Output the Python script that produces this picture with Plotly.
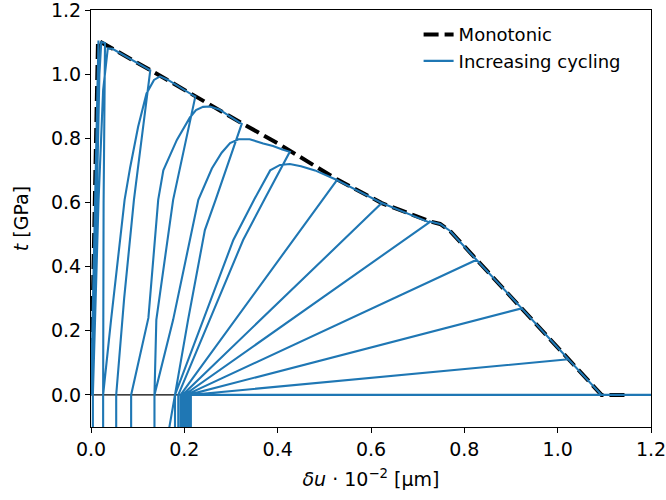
import plotly.graph_objects as go

# Monotonic envelope
mono_x = [0.0, 0.015, 0.13, 0.223, 0.326, 0.405, 0.526, 0.623, 0.726, 0.748, 0.769, 1.094, 1.15]
mono_t = [0.0, 1.105, 1.01, 0.930, 0.845, 0.780, 0.673, 0.598, 0.541, 0.533, 0.512, 0.0, 0.0]

# Cyclic test: unloading points on the envelope
peak_x = [0.016, 0.030, 0.127, 0.224, 0.323, 0.426, 0.527, 0.623, 0.725, 0.826, 0.923, 1.023]
peak_t = [1.105, 1.097, 1.012, 0.933, 0.845, 0.758, 0.670, 0.598, 0.538, 0.421, 0.270, 0.111]

# intermediate points on unloading branches
unload_x = [[], [0.027], [0.101, 0.092, 0.071], [0.19, 0.176, 0.14], [0.267, 0.244, 0.208],
            [0.371, 0.326], [], [], [], [], [], []]
unload_t = [[], [0.6], [0.70, 0.608, 0.30], [0.70, 0.608, 0.234], [0.608, 0.514, 0.234],
            [0.608, 0.483], [], [], [], [], [], []]
# residual opening where unloading reaches t = 0, and bottom of compression branch
resid_x = [0.004, 0.026, 0.054, 0.136, 0.180, 0.187, 0.192, 0.196, 0.200, 0.204, 0.208, 0.212]
comp_x = [0.004, 0.026, 0.054, 0.136, 0.132, 0.187, 0.192, 0.196, 0.200, 0.204, 0.208, 0.212]
# start of reloading branch on t = 0
rel0_x = [0.004, 0.004, 0.026, 0.086, 0.136, 0.180, 0.192, 0.196, 0.200, 0.204, 0.208, 0.212]
# reloading branches (up to where they rejoin the envelope)
reload_x = [[0.018, 0.022],
            [0.016, 0.019, 0.026, 0.036, 0.046],
            [0.043, 0.072, 0.084, 0.101, 0.119, 0.135, 0.148, 0.165],
            [0.123, 0.144, 0.155, 0.184, 0.212, 0.225, 0.24, 0.255, 0.275, 0.295],
            [0.176, 0.23, 0.259, 0.28, 0.298, 0.316, 0.34, 0.369, 0.39, 0.41],
            [0.305, 0.35, 0.384, 0.405, 0.426, 0.45, 0.48, 0.505],
            [], [], [], [], [], []]
reload_t = [[1.0, 1.1],
            [0.6, 0.7, 0.95, 1.08, 1.079],
            [0.234, 0.608, 0.71, 0.836, 0.94, 0.982, 0.993, 0.982],
            [0.24, 0.608, 0.70, 0.795, 0.865, 0.888, 0.898, 0.899, 0.89, 0.871],
            [0.234, 0.608, 0.706, 0.755, 0.785, 0.797, 0.797, 0.784, 0.776, 0.765],
            [0.483, 0.61, 0.70, 0.717, 0.72, 0.713, 0.70, 0.684],
            [], [], [], [], [], []]
# final failure: traction-free sliding back and forth
tail_x = [1.094, 1.2, 0.214, 0.214]
tail_t = [0.0, 0.0, 0.0, -0.4]
comp_bottom = -0.4


def env_between(x0, x1):
    return [(x, t) for x, t in zip(mono_x, mono_t) if x0 < x < x1]


pts = [(0.0, 0.0)]
join_x = 0.0
for i in range(len(peak_x)):
    pts += env_between(join_x, peak_x[i])
    pts.append((peak_x[i], peak_t[i]))
    pts += list(zip(unload_x[i], unload_t[i]))
    pts.append((resid_x[i], 0.0))
    pts.append((comp_x[i], comp_bottom))
    pts.append((rel0_x[i], comp_bottom))
    pts.append((rel0_x[i], 0.0))
    if reload_x[i]:
        pts += list(zip(reload_x[i], reload_t[i]))
        join_x = reload_x[i][-1]
    else:
        pts.append((peak_x[i], peak_t[i]))
        join_x = peak_x[i]
pts += env_between(join_x, tail_x[0])
pts += list(zip(tail_x, tail_t))

cyc_x = [p[0] for p in pts]
cyc_t = [p[1] for p in pts]

FONT = "DejaVu Sans"
fig = go.Figure()
fig.add_trace(go.Scatter(x=[0, 1.2], y=[0, 0], mode="lines",
                         line=dict(color="black", width=1.4), showlegend=False, hoverinfo="skip"))
fig.add_trace(go.Scatter(x=mono_x, y=mono_t, mode="lines", name="Monotonic",
                         line=dict(color="black", width=4, dash="15px,6px")))
fig.add_trace(go.Scatter(x=cyc_x, y=cyc_t, mode="lines", name="Increasing cycling",
                         line=dict(color="#1f77b4", width=2.1)))

axis_common = dict(showline=True, linecolor="black", linewidth=1.2, mirror=True,
                   ticks="outside", ticklen=5, tickwidth=1.2, tickcolor="black",
                   showgrid=False, zeroline=False, ticklabeloverflow="allow",
                   tickfont=dict(family=FONT, size=19, color="black"))
fig.update_xaxes(range=[0, 1.2], tickvals=[0, 0.2, 0.4, 0.6, 0.8, 1.0, 1.2], tickformat=".1f",
                 title=dict(text="<i>δu</i> · 10<sup>−2</sup> [μm]", font=dict(family=FONT, size=19, color="black"),
                            standoff=13),
                 **axis_common)
fig.update_yaxes(range=[-0.1, 1.2], tickvals=[0, 0.2, 0.4, 0.6, 0.8, 1.0, 1.2], tickformat=".1f",
                 title=dict(text="<i>t</i> [GPa]", font=dict(family=FONT, size=19, color="black"),
                            standoff=17),
                 **axis_common)
fig.update_layout(width=666, height=500, margin=dict(l=91, r=15, t=10, b=73, autoexpand=False),
                  plot_bgcolor="white", paper_bgcolor="white",
                  font=dict(family=FONT, size=19, color="black"),
                  legend=dict(x=0.585, y=0.985, xanchor="left", yanchor="top",
                              bgcolor="rgba(0,0,0,0)", font=dict(family=FONT, size=18, color="black")))
fig.write_html("out.html")
